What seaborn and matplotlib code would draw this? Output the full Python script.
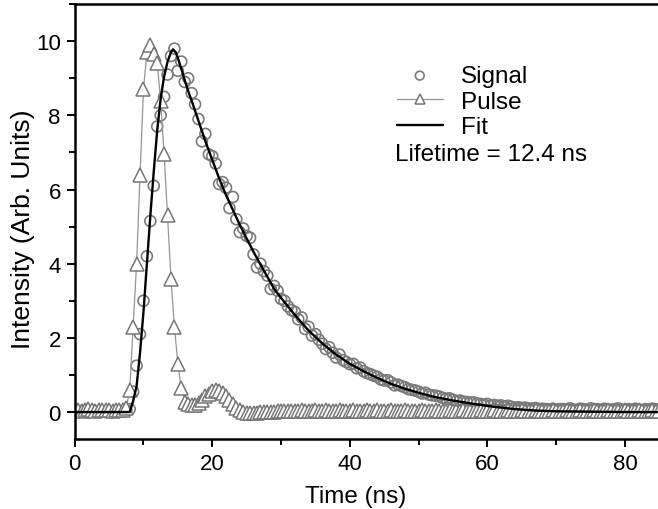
import numpy as np
import pandas as pd
import matplotlib.pyplot as plt
from matplotlib.ticker import MultipleLocator
import seaborn as sns

# sample times (ns), 0.5 ns channel width
time_ns = np.arange(0, 85.01, 0.5)

# measured signal, one value per channel
signal = [
    0.02, 0.00, 0.03, 0.01, -0.01, 0.02, 0.00, 0.03, 0.01, 0.00,   # 0 - 4.5
    0.02, -0.01, 0.01, 0.03, 0.02, 0.05, 0.08, 0.55, 1.25, 2.10,   # 5 - 9.5
    3.00, 4.20, 5.15, 6.10, 7.70, 8.00, 8.50, 9.10, 9.60, 9.80,    # 10 - 14.5
    9.20, 9.45, 8.90, 9.00, 8.60, 8.30, 7.90, 7.30, 7.50, 6.95,    # 15 - 19.5
    6.90, 6.70, 6.15, 6.20, 6.05, 5.50, 5.80, 5.20, 4.85, 4.95,    # 20 - 24.5
    4.75, 4.70, 4.25, 3.90, 4.00, 3.80, 3.68, 3.32, 3.40, 3.27,    # 25 - 29.5
    3.05, 3.00, 2.85, 2.75, 2.70, 2.50, 2.55, 2.24, 2.30, 2.06,    # 30 - 34.5
    2.10, 1.95, 1.84, 1.70, 1.75, 1.60, 1.47, 1.55, 1.40, 1.35,    # 35 - 39.5
    1.29, 1.30, 1.18, 1.20, 1.10, 1.05, 1.02, 0.98, 0.95, 0.88,    # 40 - 44.5
    0.85, 0.86, 0.80, 0.72, 0.74, 0.70, 0.67, 0.62, 0.60, 0.58,    # 45 - 49.5
    0.55, 0.50, 0.52, 0.47, 0.45, 0.44, 0.42, 0.38, 0.36, 0.37,    # 50 - 54.5
    0.33, 0.30, 0.31, 0.28, 0.27, 0.26, 0.26, 0.23, 0.22, 0.20,    # 55 - 59.5
    0.22, 0.18, 0.19, 0.17, 0.18, 0.15, 0.17, 0.14, 0.12, 0.13,    # 60 - 64.5
    0.11, 0.12, 0.10, 0.09, 0.11, 0.08, 0.09, 0.08, 0.07, 0.09,    # 65 - 69.5
    0.06, 0.08, 0.08, 0.06, 0.10, 0.07, 0.05, 0.09, 0.08, 0.06,    # 70 - 74.5
    0.10, 0.07, 0.08, 0.05, 0.09, 0.07, 0.06, 0.08, 0.10, 0.07,    # 75 - 79.5
    0.05, 0.08, 0.06, 0.09, 0.07, 0.05, 0.08, 0.06, 0.09, 0.07,    # 80 - 84.5
    0.08,                                                          # 85
]

# instrument pulse, same channels
pulse = [
    0.05, 0.06, 0.04, 0.05, 0.07, 0.05, 0.04, 0.06, 0.05, 0.05,    # 0 - 4.5
    0.06, 0.04, 0.05, 0.06, 0.05, 0.10, 0.60, 2.30, 4.00, 6.40,    # 5 - 9.5
    8.70, 9.70, 9.90, 9.65, 9.40, 8.40, 6.95, 5.30, 3.60, 2.30,    # 10 - 14.5
    1.30, 0.65, 0.28, 0.22, 0.18, 0.20, 0.24, 0.32, 0.42, 0.50,    # 15 - 19.5
    0.56, 0.60, 0.58, 0.52, 0.42, 0.32, 0.22, 0.12, 0.05, 0.01,    # 20 - 24.5
    -0.02, -0.03, -0.02, -0.02, -0.01, -0.01, 0.00, 0.00, 0.01, 0.02,  # 25 - 29.5
    0.02, 0.03, 0.03, 0.04, 0.03, 0.04, 0.05, 0.04, 0.03, 0.04,    # 30 - 34.5
    0.05, 0.04, 0.03, 0.05, 0.04, 0.03, 0.04, 0.05, 0.04, 0.03,    # 35 - 39.5
    0.04, 0.05, 0.04, 0.03, 0.04, 0.05, 0.03, 0.04, 0.05, 0.04,    # 40 - 44.5
    0.03, 0.04, 0.05, 0.04, 0.03, 0.04, 0.05, 0.04, 0.04, 0.03,    # 45 - 49.5
    0.04, 0.05, 0.04, 0.03, 0.04, 0.05, 0.04, 0.03, 0.04, 0.05,    # 50 - 54.5
    0.04, 0.03, 0.04, 0.05, 0.04, 0.04, 0.03, 0.04, 0.05, 0.04,    # 55 - 59.5
    0.03, 0.04, 0.05, 0.04, 0.03, 0.04, 0.05, 0.04, 0.03, 0.04,    # 60 - 64.5
    0.05, 0.04, 0.03, 0.04, 0.05, 0.04, 0.04, 0.03, 0.04, 0.05,    # 65 - 69.5
    0.04, 0.03, 0.04, 0.05, 0.04, 0.03, 0.04, 0.05, 0.04, 0.03,    # 70 - 74.5
    0.04, 0.05, 0.04, 0.03, 0.04, 0.05, 0.04, 0.04, 0.03, 0.04,    # 75 - 79.5
    0.05, 0.04, 0.03, 0.04, 0.05, 0.04, 0.03, 0.04, 0.05, 0.04,    # 80 - 84.5
    0.04,                                                          # 85
]

# fitted curve
fit_time = [0, 4, 8.0, 8.5, 9.0, 9.5, 10.0, 10.5, 11.0, 11.5, 12.0, 12.5, 13.0,
            13.5, 14.0, 14.3, 14.7, 15.0, 15.5, 16.0, 16.5, 17.0, 18.0, 19.0,
            20, 21, 22, 23, 24, 25, 26, 27, 28, 29, 30, 32, 34, 36, 38, 40,
            42, 44, 46, 48, 50, 52, 55, 58, 61, 64, 67, 70, 75, 80, 85]
fit = [0.0, 0.0, 0.0, 0.3, 0.7, 1.6, 2.7, 4.0, 5.3, 6.5, 7.6, 8.45, 9.05,
       9.45, 9.7, 9.78, 9.7, 9.55, 9.25, 8.95, 8.65, 8.4, 7.85, 7.3,
       6.8, 6.3, 5.85, 5.45, 5.05, 4.68, 4.32, 3.98, 3.65, 3.32, 3.08, 2.62, 2.2, 1.85, 1.55, 1.3,
       1.1, 0.92, 0.76, 0.63, 0.52, 0.42, 0.31, 0.22, 0.14, 0.08, 0.04, 0.02, 0.01, 0.0, 0.0]

df = pd.DataFrame({'time': time_ns, 'signal': signal, 'pulse': pulse})

sns.set_style('ticks', {'axes.edgecolor': 'black', 'text.color': 'black',
                        'axes.labelcolor': 'black', 'xtick.color': 'black',
                        'ytick.color': 'black'})
plt.rcParams['font.family'] = ['Liberation Sans', 'DejaVu Sans']

fig = plt.figure(figsize=(6.58, 5.1), dpi=100)
ax = fig.add_axes([0.1135, 0.137, 0.8865, 0.853])

sns.lineplot(data=df, x='time', y='pulse', ax=ax, color='#959595', lw=0.9,
             marker='^', ms=9.5, mfc='white', mec='#767676', mew=1.1, label='Pulse')
sns.scatterplot(data=df, x='time', y='signal', ax=ax, marker='o', s=62,
                facecolors='none', edgecolor='#7a7a7a', linewidth=1.2, label='Signal')
sns.lineplot(x=fit_time, y=fit, ax=ax, color='black', lw=1.7, label='Fit')

ax.set_xlim(0, 84.8)
ax.set_ylim(-0.73, 11.0)
ax.xaxis.set_major_locator(MultipleLocator(20))
ax.xaxis.set_minor_locator(MultipleLocator(10))
ax.yaxis.set_major_locator(MultipleLocator(2))
ax.yaxis.set_minor_locator(MultipleLocator(1))
ax.tick_params(which='major', direction='out', length=6, width=1.4, labelsize=16, pad=4)
ax.tick_params(which='minor', direction='out', length=4, width=1.4)
for s in ['left', 'bottom', 'top']:
    ax.spines[s].set_linewidth(1.8)
ax.spines['right'].set_visible(False)

ax.set_xlabel('Time (ns)', fontsize=17.5)
ax.set_ylabel('Intensity (Arb. Units)', fontsize=19)
ax.xaxis.set_label_coords(0.482, -0.105)
ax.yaxis.set_label_coords(-0.068, 0.485)

h, l = ax.get_legend_handles_labels()
order = [l.index('Signal'), l.index('Pulse'), l.index('Fit')]
ax.legend([h[i] for i in order], [l[i] for i in order], loc='upper left',
          bbox_to_anchor=(0.552, 0.86), frameon=False, fontsize=17.5,
          handlelength=1.9, handletextpad=0.75, labelspacing=0.15,
          borderpad=0, borderaxespad=0, markerscale=0.8)
ax.text(0.549, 0.655, 'Lifetime = 12.4 ns', transform=ax.transAxes,
        fontsize=17.5, va='center', ha='left')

fig.savefig('out.png', dpi=100)
